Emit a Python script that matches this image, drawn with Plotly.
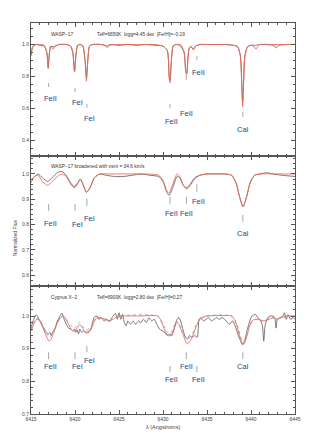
import plotly.graph_objects as go
from plotly.subplots import make_subplots

# ---------------- data ----------------
# Panel 1: WASP-17 observed (gray) and model (red)
p1_obs_wl = [6415.0, 6415.15, 6415.3, 6415.6, 6416.0, 6416.5, 6416.8, 6416.95, 6417.1, 6417.25, 6417.5, 6417.8,
             6418.2, 6419.0, 6419.5, 6419.75, 6419.95, 6420.1, 6420.3, 6420.6, 6420.9, 6421.15, 6421.3, 6421.45,
             6421.65, 6422.0, 6423.0, 6423.67, 6424.0, 6425.0, 6426.0, 6427.0, 6428.0, 6429.0, 6430.0, 6430.5,
             6430.7, 6430.8, 6430.95, 6431.15, 6431.5, 6432.0, 6432.4, 6432.6, 6432.7, 6432.85, 6433.0, 6433.2,
             6433.45, 6433.7, 6434.2, 6435.0, 6436.0, 6437.0, 6438.0, 6438.5, 6438.8, 6438.95, 6439.05, 6439.15,
             6439.3, 6439.6, 6440.0, 6440.5, 6441.0, 6442.5, 6442.9, 6443.2, 6444.0, 6445.0]
p1_obs_fx = [0.93, 0.98, 0.995, 1.0, 0.995, 0.99, 0.95, 0.85, 0.95, 0.99, 0.985, 0.99,
             1.0, 1.0, 0.99, 0.95, 0.83, 0.93, 0.995, 1.0, 0.99, 0.90, 0.79, 0.90,
             0.99, 1.0, 1.0, 0.99, 1.0, 0.995, 1.0, 0.995, 1.0, 0.995, 0.99, 0.96,
             0.80, 0.775, 0.90, 0.99, 1.0, 0.99, 0.95, 0.83, 0.82, 0.93, 0.98, 0.985,
             0.97, 0.99, 1.0, 1.0, 1.0, 1.0, 0.995, 0.985, 0.93, 0.76, 0.64, 0.76,
             0.93, 0.985, 0.995, 0.995, 1.0, 0.995, 0.98, 0.995, 1.0, 1.0]
p1_mod_wl = [6415.0, 6415.15, 6415.3, 6415.6, 6416.0, 6416.5, 6416.8, 6416.95, 6417.1, 6417.25, 6417.5, 6417.75,
             6418.2, 6419.0, 6419.5, 6419.75, 6419.95, 6420.1, 6420.3, 6420.6, 6420.9, 6421.15, 6421.3, 6421.45,
             6421.65, 6422.0, 6423.0, 6423.4, 6423.67, 6423.9, 6425.0, 6426.0, 6427.0, 6428.0, 6429.0, 6430.0,
             6430.5, 6430.7, 6430.8, 6430.95, 6431.15, 6431.5, 6432.0, 6432.4, 6432.6, 6432.7, 6432.85, 6433.0,
             6433.2, 6433.45, 6433.7, 6434.2, 6435.0, 6436.0, 6437.0, 6438.0, 6438.5, 6438.8, 6438.95, 6439.05,
             6439.15, 6439.3, 6439.6, 6440.0, 6440.3, 6440.55, 6440.8, 6441.0, 6442.5, 6443.0, 6444.0, 6445.0]
p1_mod_fx = [0.93, 0.98, 0.995, 1.0, 1.0, 0.995, 0.95, 0.86, 0.95, 0.99, 0.97, 0.99,
             1.0, 1.0, 0.99, 0.95, 0.83, 0.93, 0.995, 1.0, 0.99, 0.89, 0.77, 0.89,
             0.99, 1.0, 1.0, 0.995, 0.98, 0.995, 1.0, 1.0, 1.0, 1.0, 1.0, 0.99,
             0.96, 0.79, 0.76, 0.90, 0.99, 1.0, 1.0, 0.95, 0.82, 0.81, 0.93, 0.98,
             0.99, 0.965, 0.99, 1.0, 1.0, 1.0, 1.0, 0.995, 0.985, 0.92, 0.74, 0.61,
             0.74, 0.92, 0.985, 0.995, 0.99, 0.97, 0.99, 1.0, 1.0, 1.0, 1.0, 1.0]

# Panel 2: WASP-17 broadened (gray) and model (red)
p2_obs_wl = [6415.0, 6415.4, 6415.8, 6416.3, 6416.9, 6417.4, 6418.0, 6418.5, 6419.0, 6419.5, 6419.9, 6420.3,
             6420.6, 6420.9, 6421.3, 6421.7, 6422.2, 6422.8, 6423.5, 6424.5, 6425.5, 6426.5, 6427.5, 6428.5,
             6429.5, 6430.0, 6430.4, 6430.7, 6431.1, 6431.6, 6431.9, 6432.3, 6432.7, 6433.1, 6433.6, 6434.2,
             6435.0, 6436.0, 6437.0, 6437.8, 6438.3, 6438.7, 6439.1, 6439.5, 6439.9, 6440.4, 6441.0, 6441.8,
             6442.5, 6443.5, 6445.0]
p2_obs_fx = [0.975, 0.99, 1.0, 0.985, 0.97, 0.985, 1.005, 1.01, 0.995, 0.965, 0.95, 0.965,
             0.98, 0.96, 0.928, 0.945, 0.985, 1.0, 0.995, 0.99, 0.99, 0.995, 1.0, 0.995,
             0.99, 0.97, 0.93, 0.915, 0.945, 0.99, 0.985, 0.955, 0.945, 0.96, 0.985, 0.995,
             1.0, 1.0, 1.0, 0.995, 0.965, 0.91, 0.87, 0.91, 0.965, 0.995, 1.0, 1.005,
             1.0, 0.995, 0.99]
p2_mod_wl = [6415.0, 6415.4, 6415.8, 6416.3, 6416.9, 6417.4, 6418.0, 6418.5, 6419.0, 6419.5, 6419.9, 6420.3,
             6420.6, 6420.9, 6421.3, 6421.7, 6422.2, 6422.8, 6424.0, 6426.0, 6428.0, 6429.5, 6430.0, 6430.4,
             6430.7, 6431.1, 6431.6, 6431.9, 6432.3, 6432.7, 6433.1, 6433.6, 6434.2, 6435.0, 6437.0, 6437.8,
             6438.3, 6438.7, 6439.1, 6439.5, 6439.9, 6440.4, 6441.0, 6443.0, 6445.0]
p2_mod_fx = [0.965, 0.99, 0.995, 0.97, 0.955, 0.97, 0.99, 1.0, 0.99, 0.96, 0.945, 0.96,
             0.98, 0.96, 0.927, 0.945, 0.985, 1.0, 1.0, 1.0, 1.0, 0.995, 0.975, 0.935,
             0.925, 0.96, 1.0, 0.99, 0.955, 0.94, 0.955, 0.98, 0.995, 1.0, 1.0, 0.995,
             0.965, 0.91, 0.87, 0.91, 0.965, 0.995, 1.0, 1.0, 1.0]

# Panel 3: Cygnus X-2 observed (gray), model (red), alternative model (dotted)
p3_obs_wl = [6415.0, 6415.3, 6415.6, 6415.9, 6416.2, 6416.5, 6416.75, 6417.0, 6417.15, 6417.3, 6417.45, 6417.7,
             6418.0, 6418.3, 6418.5, 6418.7, 6419.0, 6419.3, 6419.55, 6419.75, 6419.9, 6420.1, 6420.25, 6420.4,
             6420.55, 6420.75, 6421.0, 6421.3, 6421.6, 6421.85, 6422.2, 6422.5, 6422.7, 6423.0, 6423.3, 6423.6,
             6423.9, 6424.2, 6424.6, 6424.8, 6425.0, 6425.2, 6425.4, 6425.6, 6425.8, 6426.0, 6426.3, 6426.6,
             6426.9, 6427.2, 6427.5, 6427.8, 6428.1, 6428.4, 6428.7, 6429.0, 6429.3, 6429.6, 6429.9, 6430.2,
             6430.5, 6430.8, 6431.0, 6431.3, 6431.6, 6431.8, 6432.0, 6432.3, 6432.55, 6432.8, 6433.0, 6433.3,
             6433.6, 6433.9, 6434.1, 6434.3, 6434.6, 6434.9, 6435.2, 6435.5, 6435.8, 6436.1, 6436.4, 6436.7,
             6437.0, 6437.3, 6437.6, 6437.9, 6438.2, 6438.5, 6438.8, 6439.05, 6439.3, 6439.55, 6439.8, 6440.1,
             6440.5, 6440.8, 6441.1, 6441.3, 6441.45, 6441.6, 6441.9, 6442.2, 6442.5, 6442.7, 6442.85, 6443.0,
             6443.3, 6443.6, 6443.8, 6444.0, 6444.2, 6444.5, 6444.8, 6445.0]
p3_obs_fx = [0.962, 0.99, 1.004, 0.99, 0.975, 0.96, 0.95, 0.945, 0.95, 0.94, 0.95, 0.96,
             0.985, 1.0, 1.009, 0.995, 0.975, 0.962, 0.96, 0.955, 0.96, 0.95, 0.958, 0.945,
             0.96, 0.95, 0.955, 0.95, 0.955, 0.965, 0.997, 1.0, 0.99, 0.995, 0.985, 0.99,
             0.985, 0.995, 1.008, 0.99, 1.01, 0.99, 1.005, 0.98, 0.97, 0.985, 0.975, 0.985,
             0.975, 0.985, 0.98, 0.99, 0.98, 0.995, 0.985, 0.99, 0.975, 0.96, 0.955, 0.95,
             0.94, 0.945, 0.94, 0.965, 0.99, 0.995, 0.985, 0.955, 0.935, 0.93, 0.94, 0.935,
             0.94, 0.935, 0.99, 0.995, 0.985, 0.99, 0.995, 0.985, 0.99, 0.995, 0.99, 0.995,
             0.99, 0.98, 0.975, 0.985, 0.97, 0.945, 0.925, 0.912, 0.925, 0.955, 0.98, 1.0,
             1.005, 0.995, 0.985, 0.97, 0.923, 0.97, 0.995, 1.0, 1.0, 0.995, 0.963, 0.99,
             0.995, 1.0, 1.01, 0.99, 1.004, 0.99, 0.995, 0.99]
p3_mod_wl = [6415.0, 6415.3, 6415.6, 6415.9, 6416.2, 6416.5, 6416.8, 6417.05, 6417.3, 6417.6, 6417.9, 6418.2,
             6418.6, 6418.9, 6419.2, 6419.6, 6419.9, 6420.2, 6420.5, 6420.75, 6421.0, 6421.25, 6421.6, 6421.9,
             6422.2, 6422.5, 6423.0, 6423.5, 6423.9, 6424.3, 6424.7, 6425.0, 6427.0, 6429.4, 6429.7, 6430.0,
             6430.3, 6430.6, 6430.9, 6431.2, 6431.55, 6431.8, 6432.1, 6432.4, 6432.67, 6432.9, 6433.2, 6433.5,
             6433.8, 6434.2, 6434.6, 6435.0, 6437.8, 6438.1, 6438.4, 6438.7, 6439.0, 6439.2, 6439.5, 6439.8,
             6440.1, 6440.5, 6440.9, 6441.3, 6441.7, 6442.2, 6442.6, 6443.0, 6443.4, 6444.0, 6445.0]
p3_mod_fx = [0.953, 0.975, 0.989, 0.99, 0.975, 0.955, 0.935, 0.923, 0.93, 0.95, 0.972, 0.99,
             1.0, 0.995, 0.978, 0.958, 0.953, 0.962, 0.974, 0.968, 0.955, 0.948, 0.95, 0.963,
             0.985, 0.995, 0.993, 0.99, 0.983, 0.99, 0.997, 1.0, 1.0, 1.0, 0.99, 0.97,
             0.95, 0.94, 0.94, 0.955, 0.98, 0.975, 0.955, 0.935, 0.917, 0.918, 0.928, 0.948,
             0.97, 0.99, 0.997, 1.0, 1.0, 0.99, 0.97, 0.94, 0.917, 0.915, 0.935, 0.965,
             0.985, 0.99, 0.99, 0.985, 0.986, 0.992, 0.995, 0.99, 0.995, 1.0, 1.0]
p3_alt_wl = [6415.0, 6415.6, 6416.2, 6416.8, 6417.05, 6417.3, 6417.9, 6418.6, 6419.2, 6419.9, 6420.5, 6421.25,
             6421.9, 6422.5, 6423.9, 6425.0, 6429.4, 6430.0, 6430.6, 6430.9, 6431.55, 6432.1, 6432.67, 6433.2,
             6433.8, 6434.6, 6437.8, 6438.4, 6439.0, 6439.2, 6439.8, 6440.5, 6441.3, 6442.6, 6443.0, 6445.0]
p3_alt_fx = [0.96, 0.992, 0.98, 0.945, 0.935, 0.94, 0.975, 1.0, 0.982, 0.962, 0.98, 0.957,
             0.97, 0.995, 0.987, 1.0, 1.0, 0.975, 0.948, 0.948, 0.985, 0.962, 0.93, 0.937,
             0.975, 0.998, 1.0, 0.975, 0.925, 0.923, 0.97, 0.99, 0.987, 0.995, 0.992, 1.0]

# line identifications
line_wl = [6417.0, 6420.0, 6421.35, 6430.8, 6432.65, 6433.85, 6439.07]
line_lab = ["FeII", "FeI", "FeI", "FeII", "FeII", "FeII", "CaI"]

panel_titles = [("WASP−17", "Teff=6650K  logg=4.45 dex  [Fe/H]=−0.19"),
                ("WASP−17 broadened with vsini = 34.6 km/s", ""),
                ("Cygnus X−2", "Teff=6900K  logg=2.80 dex  [Fe/H]=0.27")]

x_ticks = [6415, 6420, 6425, 6430, 6435, 6440, 6445]

# ---------------- layout config ----------------
# per panel: (tick top, tick bottom, label y) for each line, in flux units
mark_y = [
    [(0.758, 0.733, 0.662), (0.727, 0.702, 0.635), (0.627, 0.602, 0.535), (0.627, 0.602, 0.514),
     (0.810, 0.777, 0.564), (0.927, 0.902, 0.827), (0.577, 0.545, 0.464)],
    [(0.881, 0.854, 0.805), (0.881, 0.854, 0.802), (0.902, 0.874, 0.822), (0.910, 0.881, 0.842),
     (0.910, 0.881, 0.842), (0.960, 0.930, 0.892), (0.838, 0.811, 0.763)],
    [(0.889, 0.868, 0.845), (0.889, 0.868, 0.845), (0.908, 0.889, 0.865), (0.847, 0.828, 0.805),
     (0.889, 0.868, 0.845), (0.847, 0.828, 0.805), (0.889, 0.868, 0.845)],
]
label_dx = [0.2, 0.25, 0.3, 0.2, 0.0, 0.15, 0.0]
title_y = [1.0625, 1.029, 1.0576]
y_ranges = [[0.30, 1.135], [0.557, 1.071], [0.70, 1.092]]
y_major = [[0.4, 0.6, 0.8, 1.0], [0.6, 0.7, 0.8, 0.9, 1.0], [0.7, 0.8, 0.9, 1.0]]
y_minor = [0.05, 0.02, 0.02]

GRAY = "#666666"
RED = "#ec6a55"
BLUE = "#8fa8d8"
LABC = "#34437a"
AXC = "#555555"
FONT = "Liberation Sans"

fig = make_subplots(rows=3, cols=1, shared_xaxes=True, vertical_spacing=0)

series = [
    [(p1_obs_wl, p1_obs_fx, GRAY, "solid"), (p1_mod_wl, p1_mod_fx, RED, "solid")],
    [(p2_obs_wl, p2_obs_fx, GRAY, "solid"), (p2_mod_wl, p2_mod_fx, RED, "solid")],
    [(p3_obs_wl, p3_obs_fx, GRAY, "solid"), (p3_alt_wl, p3_alt_fx, BLUE, "dot"),
     (p3_mod_wl, p3_mod_fx, RED, "solid")],
]
for i, sers in enumerate(series):
    for wl, fx, col, dash in sers:
        fig.add_trace(go.Scatter(x=wl, y=fx, mode="lines", line=dict(color=col, width=0.9, dash=dash,
                                                                     shape="spline", smoothing=0.6),
                                 showlegend=False, hoverinfo="skip"), row=i + 1, col=1)

domains = [[0.6598, 1.0], [0.3274, 0.6598], [0.0, 0.3274]]
annotations = []
shapes = []
for i in range(3):
    yname = "y" if i == 0 else f"y{i+1}"
    for j, wl in enumerate(line_wl):
        t0, t1, ly = mark_y[i][j]
        shapes.append(dict(type="line", xref="x", yref=yname, x0=wl, x1=wl, y0=t0, y1=t1,
                           line=dict(color="#a8a8a8", width=1)))
        annotations.append(dict(xref="x", yref=yname, x=wl + label_dx[j], y=ly, text=line_lab[j],
                                showarrow=False, font=dict(family=FONT, size=7.5, color=LABC),
                                xanchor="center", yanchor="middle"))
    t1, t2 = panel_titles[i]
    annotations.append(dict(xref="x", yref=yname, x=6417.1, y=title_y[i], text=t1, showarrow=False,
                            xanchor="left", yanchor="middle", font=dict(family=FONT, size=4.8, color="#333")))
    if t2:
        annotations.append(dict(xref="x", yref=yname, x=6422.25, y=title_y[i], text=t2, showarrow=False,
                                xanchor="left", yanchor="middle", font=dict(family=FONT, size=4.8, color="#333")))

annotations.append(dict(xref="paper", yref="paper", x=-0.06, y=0.45, text="Normalized Flux", textangle=-90,
                        showarrow=False, font=dict(family=FONT, size=5, color="#444"),
                        xanchor="center", yanchor="middle"))
annotations.append(dict(xref="paper", yref="paper", x=0.5, y=-0.033, text="λ (Angstroms)",
                        showarrow=False, font=dict(family=FONT, size=5.5, color="#444"),
                        xanchor="center", yanchor="middle"))

axis_common = dict(showline=True, linecolor=AXC, linewidth=1, mirror="ticks", ticks="inside",
                   ticklen=4, tickcolor=AXC, tickwidth=1, showgrid=False, zeroline=False,
                   tickfont=dict(family=FONT, size=5, color="#444"))

for i in range(3):
    xa = "xaxis" if i == 0 else f"xaxis{i+1}"
    ya = "yaxis" if i == 0 else f"yaxis{i+1}"
    fig.layout[xa].update(range=[6415, 6445], tickvals=x_ticks, ticktext=[str(v) for v in x_ticks],
                          showticklabels=(i == 2),
                          minor=dict(dtick=1, tick0=6415, ticks="inside", ticklen=2, tickcolor=AXC),
                          **axis_common)
    fig.layout[ya].update(range=y_ranges[i], domain=domains[i], tickvals=y_major[i],
                          ticktext=[f"{v:.1f}" for v in y_major[i]],
                          minor=dict(dtick=y_minor[i], tick0=0, ticks="inside", ticklen=2, tickcolor=AXC),
                          **axis_common)

# page body has an 8px default margin; size the figure so the plot area lands where the reference has it
fig.update_layout(width=305, height=440, margin=dict(l=23, r=15, t=15, b=34),
                  paper_bgcolor="white", plot_bgcolor="white",
                  annotations=annotations, shapes=shapes,
                  font=dict(family=FONT))

fig.write_html("out.html")
